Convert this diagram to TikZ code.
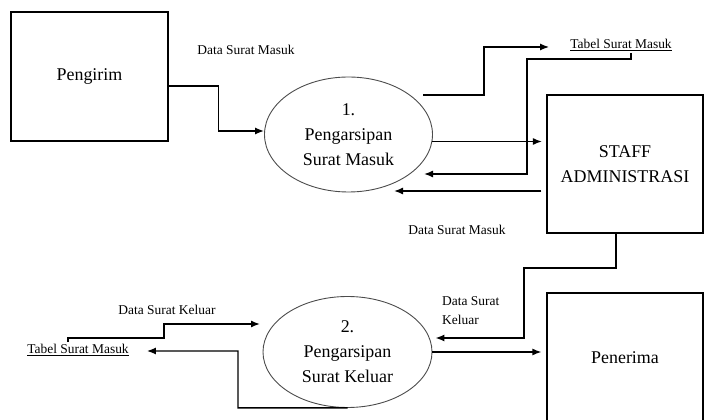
\documentclass[tikz,border=0pt]{standalone}
\usepackage{fontspec}
\setmainfont{Liberation Serif}
\usetikzlibrary{shapes.geometric,arrows.meta}
\begin{document}
\begin{tikzpicture}[>={Latex[length=9bp,width=7bp]},line join=miter,
  entity/.style={draw,line width=1.2bp,minimum width=157bp,minimum height=129bp,inner sep=0pt,font=\fontsize{18}{25}\selectfont,align=center},
  process/.style={draw=black!70,ellipse,line width=0.9bp,inner sep=0pt,font=\fontsize{18}{25}\selectfont,align=center},
  flowlbl/.style={inner sep=2bp,font=\fontsize{13.5}{19}\selectfont},
  flow/.style={->,line width=1.4bp},
]
%%
\useasboundingbox (0bp,0bp) rectangle (706bp,420bp);
\node (pengirim) at (89.5bp,343.5bp) [entity] {Pengirim};
  \node (staff) at (625bp,256bp) [entity,minimum width=156bp,minimum height=138bp] {STAFF\\ADMINISTRASI};
  \node (penerima) at (625bp,62.5bp) [entity,minimum width=156bp] {Penerima};
  \node (p1) at (348.5bp,285.5bp) [process,minimum width=168bp,minimum height=115bp] {1.\\Pengarsipan\\Surat Masuk};
  \node (p2) at (347.5bp,68bp) [process,minimum width=169bp,minimum height=111bp] {2.\\Pengarsipan\\Surat Keluar};
  \node (ts1) at (621bp,375bp) [flowlbl] {\underline{Tabel Surat Masuk}};
  \node (ts2) at (78bp,70bp) [flowlbl] {\underline{Tabel Surat Masuk}};
  \node (lbl_1) at (246bp,370bp) [flowlbl] {Data Surat Masuk};
  \node (lbl_2) at (457bp,190bp) [flowlbl] {Data Surat Masuk};
  \node (lbl_3) at (167bp,110bp) [flowlbl] {Data Surat Keluar};
  \node (lbl_4) at (440bp,109bp) [flowlbl,anchor=west,align=left] {Data Surat\\Keluar};
  \coordinate (p1_out) at (423bp,325bp);
  \coordinate (p1_in) at (424bp,246bp);
  \coordinate (p1_back) at (394bp,229bp);
  \coordinate (p2_in) at (260bp,96bp);
  \draw [flow] ([yshift=-9.5bp]pengirim.east) -- ++(50bp,0bp) |- ([yshift=3.5bp]p1.west);
  \draw [flow] (p1_out) -- ++(61bp,0bp) |- ([xshift=-19bp,yshift=-2bp]ts1.west);
  \draw [flow] ([xshift=10bp]ts1.south) |- (527bp,361bp) |- (p1_in);
  \draw [flow] ([xshift=-1bp,yshift=-7bp]p1.east) -- ++(110bp,0bp);
  \draw [flow] ([xshift=-5bp,yshift=-27bp]staff.west) -- (p1_back);
  \draw [flow] ([xshift=-9bp]staff.south) |- (524bp,152bp) |- ([xshift=3bp,yshift=14bp]p2.east);
  \draw [flow] (p2.east) -- ([xshift=-5bp,yshift=5.5bp]penerima.west);
  \draw [flow] (p2.south) -| (238bp,69bp) -- ([xshift=16bp,yshift=-1bp]ts2.east);
  \draw [flow] ([xshift=-10bp]ts2.north) |- (164bp,82bp) |- (p2_in);
%
\end{tikzpicture}
\end{document}
